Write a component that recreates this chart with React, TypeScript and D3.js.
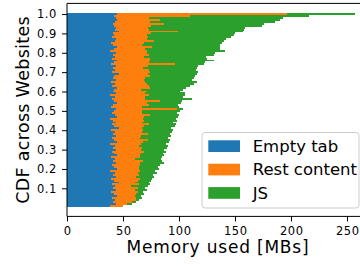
import React, { useEffect, useRef } from 'react';
import * as d3 from 'd3';

// websites sorted bottom (CDF 0.01) -> top (CDF 1.0), values in MB
const emptyTab = [
  38, 44, 41, 43, 40, 45, 42, 39, 44, 41,
  43, 40, 46, 42, 39, 44, 41, 43, 38, 45,
  42, 40, 44, 41, 43, 39, 45, 42, 40, 44,
  41, 43, 38, 45, 42, 40, 44, 41, 43, 39,
  46, 42, 40, 44, 41, 38, 45, 43, 40, 42,
  44, 39, 41, 45, 42, 40, 43, 38, 44, 41,
  42, 45, 40, 43, 39, 44, 41, 42, 46, 40,
  43, 41, 44, 39, 42, 45, 40, 43, 41, 44,
  38, 42, 45, 41, 39, 43, 44, 40, 42, 41,
  46, 43, 44, 42, 41, 43, 45, 44, 42, 45,
];

const restContent = [
  12, 10, 17, 19, 22, 16, 20, 24, 17, 22,
  14, 24, 15, 21, 26, 18, 23, 20, 27, 19,
  22, 25, 21, 27, 18, 26, 20, 24, 29, 22,
  26, 21, 28, 23, 30, 25, 22, 31, 24, 29,
  21, 27, 33, 23, 28, 30, 24, 31, 27, 25,
  54, 28, 32, 26, 41, 30, 27, 35, 26, 30,
  24, 29, 33, 28, 31, 25, 29, 32, 26, 34,
  30, 27, 28, 57, 31, 29, 34, 26, 32, 27,
  33, 28, 31, 26, 30, 35, 27, 32, 29, 34,
  53, 30, 28, 33, 46, 31, 38, 29, 68, 151,
];

const js = [
  0, 4, 4, 2, 5, 5, 7, 5, 10, 7,
  15, 10, 12, 12, 11, 16, 13, 17, 14, 18,
  17, 18, 22, 17, 23, 20, 22, 20, 19, 21,
  22, 26, 22, 23, 20, 25, 27, 20, 27, 27,
  26, 27, 24, 28, 29, 29, 30, 26, 31, 34,
  6, 33, 26, 31, 20, 42, 34, 32, 35, 30,
  38, 32, 37, 42, 46, 43, 43, 40, 44, 43,
  42, 48, 45, 26, 50, 57, 51, 55, 58, 61,
  70, 67, 61, 70, 69, 62, 71, 74, 78, 75,
  58, 85, 87, 99, 89, 112, 107, 120, 106, 61,
];

const seriesKeys = ['empty', 'rest', 'js'];
const seriesLabels = ['Empty tab', 'Rest content', 'JS'];
const seriesColors = ['#1f77b4', '#ff7f0e', '#2ca02c'];

const xTicks = [0, 50, 100, 150, 200, 250];
const yTicks = [0.1, 0.2, 0.3, 0.4, 0.5, 0.6, 0.7, 0.8, 0.9, 1.0];

const W = 360;
const H = 266;
const FONT = 'DejaVu Sans, sans-serif';

export default function App() {
  const svgRef = useRef<SVGSVGElement | null>(null);

  useEffect(() => {
    if (!svgRef.current) return;
    const svg = d3.select(svgRef.current);
    svg.selectAll('*').remove();

    const n = emptyTab.length;
    const rows = emptyTab.map((e, i) => ({
      cdf: (i + 1) / n,
      empty: e,
      rest: restContent[i],
      js: js[i],
    }));

    // plot frame in px
    const left = 67;
    const top = 3.4;
    const bottom = 216.4;

    const x = d3.scaleLinear().domain([0, 270]).range([left, left + 270 * 1.12]);
    const y = d3.scaleLinear().domain([-0.045, 1.055]).range([bottom, top]);
    const bandH = 1 / n;

    const stack = d3.stack<any>().keys(seriesKeys);
    const layers = stack(rows);

    // crispEdges so neighbouring rows butt together without white seams
    layers.forEach((layer, k) => {
      svg
        .append('g')
        .attr('fill', seriesColors[k])
        .attr('shape-rendering', 'crispEdges')
        .selectAll('rect')
        .data(layer)
        .enter()
        .append('rect')
        .attr('x', (d) => x(d[0]))
        .attr('width', (d) => Math.max(0, x(d[1]) - x(d[0])))
        .attr('y', (d) => y(d.data.cdf + bandH / 2))
        .attr('height', (d) => y(d.data.cdf - bandH / 2) - y(d.data.cdf + bandH / 2));
    });

    // axes
    const xAxis = svg
      .append('g')
      .attr('transform', `translate(0,${bottom})`)
      .call(d3.axisBottom(x).tickValues(xTicks).tickSize(5).tickPadding(5).tickFormat(d3.format('d')));
    const yAxis = svg
      .append('g')
      .attr('transform', `translate(${left},0)`)
      .call(d3.axisLeft(y).tickValues(yTicks).tickSize(5).tickPadding(5).tickFormat(d3.format('.1f')));

    [xAxis, yAxis].forEach((g) => {
      g.select('.domain').remove();
      g.selectAll('line').attr('stroke', '#000').attr('stroke-width', 1);
      g.selectAll('text')
        .attr('font-family', FONT)
        .attr('font-size', 11.5)
        .attr('letter-spacing', 0.6)
        .attr('fill', '#000');
    });
    xAxis.selectAll('text').attr('dx', 0.3);

    // spines (left, bottom, top; right is off the picture)
    svg.append('line').attr('x1', left).attr('x2', left).attr('y1', top).attr('y2', bottom)
      .attr('stroke', '#000').attr('stroke-width', 1);
    svg.append('line').attr('x1', left).attr('x2', W).attr('y1', bottom).attr('y2', bottom)
      .attr('stroke', '#000').attr('stroke-width', 1);
    svg.append('line').attr('x1', left).attr('x2', W).attr('y1', top).attr('y2', top)
      .attr('stroke', '#000').attr('stroke-width', 1);

    // axis labels
    svg.append('text')
      .attr('x', 218)
      .attr('y', 253)
      .attr('text-anchor', 'middle')
      .attr('font-family', FONT)
      .attr('font-size', 17)
      .attr('letter-spacing', 0.8)
      .text('Memory used [MBs]');

    svg.append('text')
      .attr('transform', `translate(29,${(top + bottom) / 2}) rotate(-90)`)
      .attr('text-anchor', 'middle')
      .attr('font-family', FONT)
      .attr('font-size', 17.5)
      .attr('letter-spacing', 0.3)
      .text('CDF across Websites');

    // legend
    const lg = svg.append('g').attr('transform', 'translate(202,132.5)');
    lg.append('rect')
      .attr('width', 157)
      .attr('height', 75.5)
      .attr('rx', 3)
      .attr('fill', 'white')
      .attr('fill-opacity', 0.8)
      .attr('stroke', '#cccccc')
      .attr('stroke-width', 1);
    seriesLabels.forEach((lab, i) => {
      lg.append('rect')
        .attr('x', 6.3)
        .attr('y', 7.8 + i * 23.4)
        .attr('width', 31.7)
        .attr('height', 11.7)
        .attr('fill', seriesColors[i]);
      lg.append('text')
        .attr('x', 50.7)
        .attr('y', 19.5 + i * 23.4)
        .attr('font-family', FONT)
        .attr('font-size', 16.5)
        .text(lab);
    });
  }, []);

  return (
    <svg
      ref={svgRef}
      width={W}
      height={H}
      style={{ position: 'absolute', left: 0, top: 0, background: 'white' }}
    />
  );
}
